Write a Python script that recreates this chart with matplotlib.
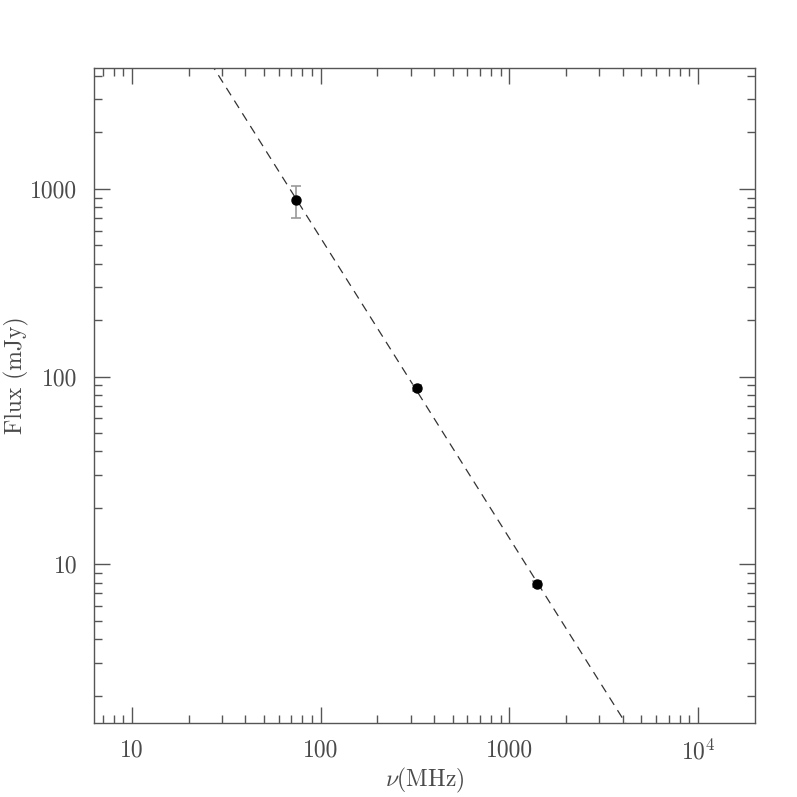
# plot.py - radio spectrum of the source with a power-law fit
import matplotlib
matplotlib.use('Agg')
import matplotlib.pyplot as plt
import numpy as np
from matplotlib.ticker import FixedLocator, FixedFormatter, LogLocator, NullFormatter

# measured fluxes
freq_mhz = [74.0, 325.0, 1400.0]
flux_mjy = [870.0, 87.0, 7.85]
flux_err = [170.0, 3.0, 0.3]

# power-law fit S = S1000 * (nu/1000)^alpha
fit_s1000 = 13.8
fit_alpha = -1.6

x_ticks = [10, 100, 1000, 1e4]
x_labels = ['10', '100', '1000', r'$10^4$']
y_ticks = [10, 100, 1000]
y_labels = ['10', '100', '1000']

plt.rcParams['font.family'] = 'cmr10'
plt.rcParams['mathtext.fontset'] = 'cm'
plt.rcParams['axes.formatter.use_mathtext'] = True

TXT = '#4a4a4a'

fig = plt.figure(figsize=(7.97, 7.97), dpi=100)
ax = fig.add_axes([0.118, 0.0928, 0.829, 0.8225])
ax.set_xscale('log')
ax.set_yscale('log')
ax.set_xlim(10**0.8, 10**4.3)
ax.set_ylim(10**0.155, 10**3.647)

# fit line
nu = np.logspace(0.8, 4.3, 200)
ax.plot(nu, fit_s1000 * (nu / 1000.0)**fit_alpha, color='#333333', lw=0.9,
        dashes=(7, 5))

# data points
ax.errorbar(freq_mhz, flux_mjy, yerr=flux_err, fmt='o', color='black',
            markersize=6.5, ecolor='#999999', elinewidth=1.2, capsize=3.3,
            capthick=1.2, zorder=5)

ax.xaxis.set_major_locator(FixedLocator(x_ticks))
ax.xaxis.set_major_formatter(FixedFormatter(x_labels))
ax.yaxis.set_major_locator(FixedLocator(y_ticks))
ax.yaxis.set_major_formatter(FixedFormatter(y_labels))
ax.xaxis.set_minor_locator(LogLocator(base=10, subs=np.arange(2, 10), numticks=20))
ax.yaxis.set_minor_locator(LogLocator(base=10, subs=np.arange(2, 10), numticks=20))
ax.xaxis.set_minor_formatter(NullFormatter())
ax.yaxis.set_minor_formatter(NullFormatter())

ax.tick_params(which='both', direction='in', top=True, right=True,
               color='#555555', width=1.0, labelcolor=TXT, labelsize=17)
ax.tick_params(which='major', length=11.5, pad=12)
ax.tick_params(which='minor', length=5.8)
for s in ax.spines.values():
    s.set_color('#555555')
    s.set_linewidth(1.0)

ax.set_xlabel(r'$\nu$(MHz)', fontsize=17, color=TXT)
ax.set_ylabel('Flux (mJy)', fontsize=17, color=TXT)
ax.xaxis.set_label_coords(0.5, -0.065)
ax.yaxis.set_label_coords(-0.098, 0.53)

fig.savefig('out.png', dpi=100)
